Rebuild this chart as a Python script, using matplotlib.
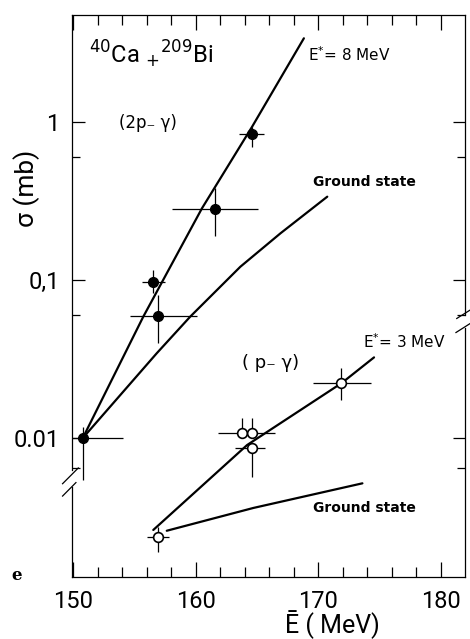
import matplotlib
matplotlib.use("Agg")
import matplotlib.pyplot as plt
from matplotlib.lines import Line2D
from matplotlib.ticker import FixedLocator, NullFormatter
import numpy as np

plt.rcParams['font.family'] = ['Roboto', 'DejaVu Sans']

# (2p-gamma) data, filled circles
E_2p = [164.6, 161.6, 156.5, 156.9, 150.8]
sig_2p = [0.84, 0.28, 0.097, 0.059, 0.0100]
E_2p_lo = [163.5, 158.1, 155.6, 154.6, 149.9]
E_2p_hi = [165.6, 165.1, 157.5, 160.1, 154.1]
sig_2p_lo = [0.70, 0.19, 0.083, 0.040, 0.0054]
sig_2p_hi = [0.93, 0.38, 0.116, 0.080, 0.0117]

# (p-gamma) data, open circles
E_p = [171.9, 163.8, 164.6, 164.6, 156.9]
sig_p = [0.0223, 0.0108, 0.0108, 0.0087, 0.00236]
E_p_lo = [169.6, 161.8, 163.8, 163.2, 156.0]
E_p_hi = [174.3, 164.6, 166.5, 165.7, 157.8]
sig_p_lo = [0.0174, 0.0108, 0.0108, 0.0057, 0.0019]
sig_p_hi = [0.0276, 0.0134, 0.0134, 0.0087, 0.00273]

# calculated curves
E8_x = [150.78, 155.72, 160.51, 164.61, 168.84]
E8_y = [0.0100, 0.0586, 0.284, 0.934, 3.39]
GS2_x = [150.78, 156.82, 159.55, 163.65, 166.93, 170.75]
GS2_y = [0.0100, 0.0344, 0.0586, 0.1214, 0.1977, 0.337]
E3_x = [156.54, 164.2, 171.93, 174.57]
E3_y = [0.00262, 0.00903, 0.0223, 0.0324]
GS1_x = [157.64, 164.71, 173.62]
GS1_y = [0.00259, 0.00361, 0.00517]

x_ticks_major = [150, 160, 170, 180]
x_ticks_minor = list(range(152, 181, 2))
y_ticks_major = [1, 0.1, 0.01]
y_tick_labels = ["1", "0,1", "0.01"]
y_ticks_minor = [0.6, 0.06, 0.0065]

fig = plt.figure(figsize=(4.70, 6.39), dpi=100)
ax = fig.add_axes([72/470, 1-577/639, 393/470, 562/639])
ax.set_yscale('log')
ax.set_xlim(149.9, 182.0)
ax.set_ylim(0.00132, 4.76)

lw_curve = 1.6
for xs, ys in [(E8_x, E8_y), (GS2_x, GS2_y), (E3_x, E3_y), (GS1_x, GS1_y)]:
    ax.plot(xs, ys, color='black', lw=lw_curve, solid_capstyle='round', zorder=2)

def err(vals, lo, hi):
    v = np.array(vals); return np.vstack([v-np.array(lo), np.array(hi)-v])

ax.errorbar(E_2p, sig_2p, xerr=err(E_2p, E_2p_lo, E_2p_hi), yerr=err(sig_2p, sig_2p_lo, sig_2p_hi),
            fmt='o', color='black', ms=7, elinewidth=0.9, capsize=0, zorder=3)
ax.errorbar(E_p, sig_p, xerr=err(E_p, E_p_lo, E_p_hi), yerr=err(sig_p, sig_p_lo, sig_p_hi),
            fmt='o', color='black', mfc='white', mec='black', mew=1.2, ms=7, elinewidth=0.9, capsize=0, zorder=3)

# ticks
ax.xaxis.set_major_locator(FixedLocator(x_ticks_major))
ax.xaxis.set_minor_locator(FixedLocator(x_ticks_minor))
ax.set_xticklabels([str(v) for v in x_ticks_major])
ax.yaxis.set_major_locator(FixedLocator(y_ticks_major))
ax.yaxis.set_minor_locator(FixedLocator(y_ticks_minor))
ax.yaxis.set_minor_formatter(NullFormatter())
ax.set_yticklabels(y_tick_labels)
ax.tick_params(which='both', direction='in', top=True, right=True, color='black', width=0.9)
ax.tick_params(axis='x', which='major', length=11, pad=9, labelsize=17)
ax.tick_params(axis='x', which='minor', length=7)
ax.tick_params(axis='y', which='major', length=9, pad=9, labelsize=17)
ax.tick_params(axis='y', which='minor', length=6)

# spines with breaks
for s in ['left', 'right']:
    ax.spines[s].set_visible(False)
for s in ['top', 'bottom']:
    ax.spines[s].set_linewidth(0.9)
kw = dict(transform=ax.transAxes, color='black', lw=0.9, clip_on=False)
ax.add_line(Line2D([0, 0], [0, 0.160], **kw))
ax.add_line(Line2D([0, 0], [0.190, 1], **kw))
ax.add_line(Line2D([1, 1], [0, 0.443], **kw))
ax.add_line(Line2D([1, 1], [0.466, 1], **kw))
ax.add_line(Line2D([-0.024, 0.016], [0.166, 0.194], **kw))
ax.add_line(Line2D([-0.024, 0.010], [0.144, 0.168], **kw))
ax.add_line(Line2D([0.979, 1.013], [0.460, 0.475], **kw))
ax.add_line(Line2D([0.977, 1.013], [0.435, 0.451], **kw))

# annotations
tk = dict(transform=ax.transAxes, color='black', va='center', ha='left')
ax.text(0.201, 0.930, r"$^{40}$Ca $_{+}$$^{209}$Bi", fontsize=17, ha='center', va='center',
        transform=ax.transAxes)
ax.text(0.600, 0.929, r"E$^{*}$= 8 MeV", fontsize=11, family=['DejaVu Sans'], **tk)
ax.text(0.120, 0.808, "(2p\u208b \u03b3)", fontsize=12, family=['DejaVu Sans'], **tk)
ax.text(0.613, 0.703, "Ground state", fontsize=10, fontweight='bold', family=['DejaVu Sans'], **tk)
ax.text(0.740, 0.418, r"E$^{*}$= 3 MeV", fontsize=11, family=['DejaVu Sans'], **tk)
ax.text(0.433, 0.381, "( p\u208b \u03b3)", fontsize=13, family=['DejaVu Sans'], **tk)
ax.text(0.613, 0.123, "Ground state", fontsize=10, fontweight='bold', family=['DejaVu Sans'], **tk)

fig.text(27/470, 1-188/639, "\u03c3 (mb)", rotation=90, fontsize=19,
         ha='center', va='center')
fig.text(332/470, 1-625/639, "\u0112 ( MeV)", fontsize=18, ha='center', va='center')
fig.text(17/470, 1-575/639, "e", fontsize=12, fontweight='bold', family=['DejaVu Serif'],
         ha='center', va='center')

fig.savefig("out.png", dpi=100)
